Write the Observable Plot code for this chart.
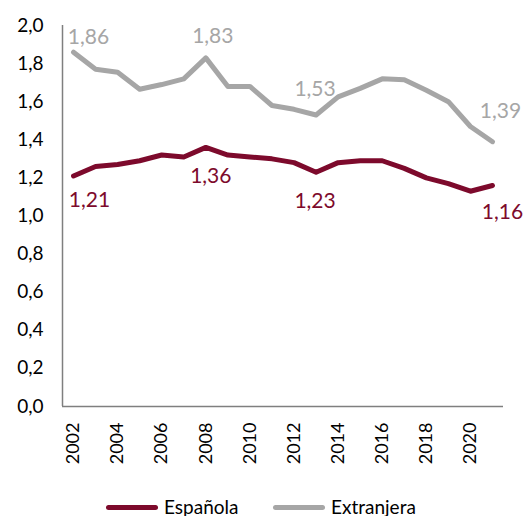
<!DOCTYPE html>
<html><head><meta charset="utf-8">
<script src="https://cdn.jsdelivr.net/npm/d3@7"></script>
<script src="https://cdn.jsdelivr.net/npm/@observablehq/plot@0.6"></script>
<style>
body{margin:0;background:#fff;font-family:Lato,"Open Sans",sans-serif;}
#chart{width:531px;height:480px;}
#legend{position:relative;width:531px;height:36px;font-size:19px;line-height:20px;color:#000;}
.item{position:absolute;top:17px;display:flex;align-items:center;}
.sw{width:52px;height:5px;border-radius:3px;margin-right:6px;}
</style></head><body>
<div id="chart"></div>
<div id="legend"></div>
<script>
const years = [2002,2003,2004,2005,2006,2007,2008,2009,2010,2011,2012,2013,2014,2015,2016,2017,2018,2019,2020,2021];
const espanola = [1.21,1.26,1.27,1.29,1.32,1.31,1.36,1.32,1.31,1.30,1.28,1.23,1.28,1.29,1.29,1.25,1.20,1.17,1.13,1.16];
const extranjera = [1.86,1.77,1.755,1.665,1.69,1.72,1.83,1.68,1.68,1.58,1.56,1.53,1.625,1.67,1.72,1.715,1.66,1.60,1.47,1.39];
const seriesNames = ["Española","Extranjera"];
const seriesColors = ["#7d0a2c","#a6a6a6"];
const yTicks = [0,0.2,0.4,0.6,0.8,1.0,1.2,1.4,1.6,1.8,2.0];
const xTicks = [2002,2004,2006,2008,2010,2012,2014,2016,2018,2020];

const fmt = v => v.toFixed(2).replace(".", ",");
const rows = [];
years.forEach((yr,i)=>{
  rows.push({year:yr, value:espanola[i], serie:seriesNames[0]});
  rows.push({year:yr, value:extranjera[i], serie:seriesNames[1]});
});
const pick = (s, yr) => rows.filter(d => d.serie === s && d.year === yr);

const esp = seriesNames[0], ext = seriesNames[1];
const lab = (s, yr, dx, dy) => Plot.text(pick(s, yr), {
  x:"year", y:"value", text: d => fmt(d.value), dx, dy,
  fill: s === esp ? seriesColors[0] : seriesColors[1], fontSize: 21
});

const chart = Plot.plot({
  width: 531, height: 480,
  marginLeft: 62, marginRight: 28, marginTop: 25, marginBottom: 74,
  style: {fontFamily: "Lato, 'Open Sans', sans-serif", background: "#fff"},
  x: {domain:[2001.5, 2021.5], label: null},
  y: {domain:[0,2], label: null},
  color: {domain: seriesNames, range: seriesColors},
  marks: [
    Plot.axisY({ticks: yTicks, tickFormat: d => d.toFixed(1).replace(".", ","), tickSize: 0, tickPadding: 19, fontSize: 19, fill: "#000", label: null}),
    Plot.axisX({ticks: xTicks, tickFormat: d => String(d), tickRotate: -90, tickSize: 0, tickPadding: 16, fontSize: 18, fill: "#000", label: null}),
    Plot.ruleX([2001.5], {stroke: "#7f7f7f", strokeWidth: 1.5}),
    Plot.ruleY([0], {stroke: "#7f7f7f", strokeWidth: 1.5}),
    Plot.line(rows, {x:"year", y:"value", z:"serie", stroke:"serie", strokeWidth: 5, strokeLinejoin:"round", strokeLinecap:"round"}),
    lab(ext, 2002, 15, -15),
    lab(ext, 2008, 7, -22),
    lab(ext, 2013, -1, -26),
    lab(ext, 2021, 8, -30),
    lab(esp, 2002, 16, 24),
    lab(esp, 2008, 5, 29),
    lab(esp, 2013, -1, 29),
    lab(esp, 2021, 10, 27)
  ]
});
document.getElementById("chart").appendChild(chart);

const legend = document.getElementById("legend");
const legendLeft = [106, 273];
seriesNames.forEach((n,i)=>{
  const it = document.createElement("div"); it.className = "item"; it.style.left = legendLeft[i] + "px";
  const sw = document.createElement("span"); sw.className = "sw"; sw.style.background = seriesColors[i];
  const tx = document.createElement("span"); tx.textContent = n;
  it.appendChild(sw); it.appendChild(tx); legend.appendChild(it);
});
</script>
</body></html>
